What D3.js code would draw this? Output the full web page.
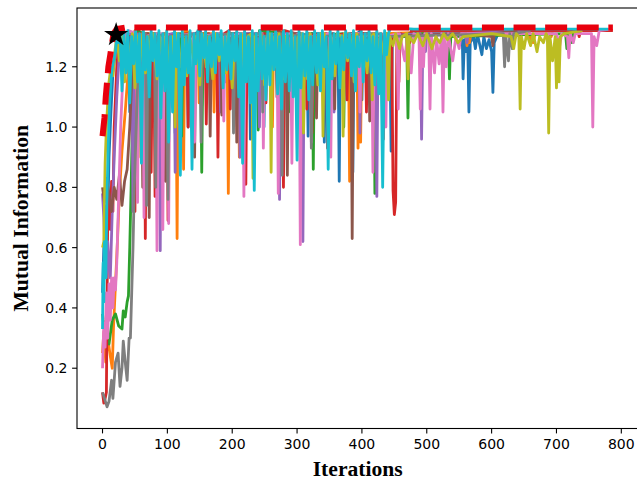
<!DOCTYPE html>
<html>
<head>
<meta charset="utf-8">
<style>
	html, body { margin: 0; padding: 0; background: #fff; }
	svg { display: block; }
	.tick-label { font-family: "DejaVu Sans", sans-serif; font-size: 14px; fill: #000; }
	.axis-title { font-family: "Liberation Serif", "Times New Roman", serif; font-weight: bold; font-size: 21.6px; fill: #000; }
</style>
<script src="https://cdn.jsdelivr.net/npm/d3@7"></script>
</head>
<body>
<div id="chart"></div>
<script>
// [iteration, mutual information] for each run
let blueRun = [[0,0.45],[2,0.6],[4,0.52],[6,0.74],[8,0.7],[10,0.9],[13,1.05],[16,1.18],[20,1.25],[25,1.3],[30,1.32],
	[40,1.3],[42,1.05],[44,1.31],[70,1.31],[72,1.12],[74,1.3],[110,1.31],[112,0.98],[114,1.3],[130,1.31],[132,1.0],[134,1.3],
	[151,1.32],[153,1.07],[155,1.31],[188,1.3],[190,1.15],[192,1.31],[226,1.31],[228,0.96],[230,1.3],[247,1.31],[249,1.0],[251,1.32],
	[270,1.31],[272,1.02],[274,1.3],[315,1.3],[317,0.97],[319,1.31],[340,1.31],[342,0.95],[344,1.3],[363,1.31],[365,0.82],[367,1.3],
	[384,1.31],[386,0.85],[388,1.3],[398,1.32],[400,1.09],[402,1.31],[420,1.31],[422,1.1],[424,1.3],[443,1.3],[445,0.92],[447,1.31],
	[552,1.31],[555,1.27],[556,1.16],[558,1.29],[561,1.25],[563,1.3],[565,1.05],[567,1.28],[572,1.3],[575,1.26],[578,1.31],
	[582,1.27],[585,1.24],[588,1.3],[592,1.26],[596,1.29],[600,1.25],[602,1.115],[604,1.28],[608,1.3],[613,1.32],[640,1.32]];

let orangeRun = [[0,0.25],[2,0.32],[5,0.22],[8,0.3],[12,0.24],[15,0.2],[17,0.34],[20,0.48],[23,0.62],[26,0.78],[30,0.92],[35,1.05],[40,1.2],[45,1.3],[50,1.32],
	[57,1.3],[59,0.9],[61,1.31],[88,1.31],[90,0.78],[92,1.3],[113,1.31],[115,0.63],[117,1.3],[123,1.31],[125,0.86],[127,1.32],
	[147,1.3],[149,1.08],[151,1.31],[170,1.31],[172,1.05],[174,1.3],[192,1.31],[194,0.78],[196,1.3],
	[209,1.31],[211,0.9],[213,1.3],[215,0.92],[217,1.3],[260,1.31],[262,1.0],[264,1.32],[300,1.31],[302,1.04],[304,1.3],
	[350,1.31],[352,1.1],[354,1.3],[379,1.31],[381,0.82],[383,1.3],[392,1.31],[394,0.93],[396,1.3],[398,0.95],[400,1.31],
	[432,1.3],[434,1.12],[436,1.31],[560,1.32],[562,1.27],[564,1.3],[566,1.28],[568,1.31],
	[658,1.32],[660,1.29],[662,1.3],[664,1.28],[667,1.31],[690,1.31],[692,1.3],[694,1.32],[720,1.32]];

let greenRun = [[0,0.38],[1,0.36],[5,0.3],[10,0.28],[15,0.36],[20,0.38],[25,0.34],[30,0.33],[32,0.39],[35,0.37],[38,0.42],[40,0.44],
	[42,0.6],[44,0.79],[46,1.0],[48,1.2],[50,1.3],[55,1.32],
	[62,1.31],[64,0.92],[66,1.3],[120,1.31],[122,0.97],[124,1.3],[151,1.31],[153,0.85],[155,1.3],[200,1.31],[202,1.1],[204,1.3],
	[238,1.31],[240,0.99],[242,1.32],[285,1.31],[287,1.05],[289,1.3],[323,1.31],[325,0.86],[327,1.3],[370,1.31],[372,1.0],[374,1.3],
	[418,1.31],[420,0.78],[422,1.3],[469,1.3],[471,1.03],[473,1.31],[533,1.31],[535,1.16],[537,1.3],
	[714,1.31],[716,1.26],[718,1.31],[722,1.3],[724,1.28],[726,1.32],[740,1.32]];

let redRun = [[0,0.12],[2,0.084],[4,0.1],[6,0.12],[8,0.7],[10,0.78],[12,0.66],[14,0.82],[16,0.72],[18,1.0],[22,1.2],[26,1.3],[30,1.32],
	[48,1.3],[50,0.72],[52,1.31],[64,1.31],[66,0.63],[68,1.3],[73,1.3],[75,0.85],[77,1.31],[79,1.31],[81,0.77],[83,1.3],
	[99,1.31],[101,0.69],[103,1.3],[130,1.31],[132,1.0],[134,1.3],[158,1.31],[160,1.01],[162,1.3],[176,1.31],[178,0.9],[180,1.3],
	[195,1.32],[197,1.06],[199,1.3],[219,1.31],[221,0.81],[223,1.3],[250,1.31],[252,1.08],[254,1.3],[277,1.31],[279,0.8],[281,1.32],
	[313,1.3],[315,1.06],[317,1.31],[323,0.98],[325,1.3],[345,1.31],[347,0.93],[349,1.3],[375,1.31],[377,1.09],[379,1.3],[384,1.2],[386,1.31],
	[405,1.31],[407,1.05],[409,1.3],[431,1.3],[433,0.96],[435,1.31],[446,1.3],[448,0.79],[450,0.71],[452,0.75],[454,1.3],[457,1.15],[459,1.31],
	[472,1.3],[474,1.28],[476,1.32],[733,1.32],[735,1.3],[737,1.32],[787,1.32]];

let purpleRun = [[0,0.78],[2,0.7],[4,0.56],[6,0.5],[8,0.62],[10,0.54],[12,0.5],[15,0.72],[18,0.9],[22,1.1],[26,1.25],[30,1.31],
	[45,1.31],[47,0.72],[49,1.3],[87,1.31],[89,0.59],[91,1.3],[110,1.31],[112,0.85],[114,1.3],[150,1.31],[152,1.1],[154,1.3],
	[180,1.31],[182,1.05],[184,1.3],[210,1.31],[212,0.9],[214,1.31],[240,1.31],[242,1.0],[244,1.3],[271,1.3],[273,0.76],[275,1.31],
	[307,1.31],[309,0.62],[311,1.3],[355,1.31],[357,1.05],[359,1.3],[395,1.31],[397,0.98],[399,1.3],[421,1.31],[423,0.77],[425,1.3],
	[490,1.31],[492,0.96],[494,1.3],[498,1.25],[500,1.31],[560,1.31],[562,1.28],[564,1.31],[650,1.32]];

let brownRun = [[0,0.8],[3,0.75],[6,0.83],[10,0.78],[14,0.72],[18,0.8],[22,0.76],[26,0.84],[30,0.74],[34,0.82],[38,0.86],[42,1.0],[46,1.2],[50,1.3],[54,1.31],
	[60,1.3],[62,0.8],[64,1.31],[70,1.31],[72,0.7],[74,1.3],[95,1.31],[97,0.82],[99,1.3],[140,1.31],[142,0.9],[144,1.3],
	[164,1.31],[166,0.97],[168,1.3],[182,1.31],[184,1.04],[186,1.3],[205,1.31],[207,0.95],[209,1.3],[230,1.31],[232,1.0],[234,1.3],
	[267,1.31],[269,1.1],[271,1.32],[283,1.3],[285,0.84],[287,1.31],[305,1.31],[307,0.98],[309,1.3],[328,1.31],[330,1.03],[332,1.3],
	[356,1.31],[358,1.06],[360,1.3],[383,1.31],[385,0.63],[387,1.3],[410,1.31],[412,1.02],[414,1.3],
	[560,1.31],[600,1.3],[602,1.27],[604,1.31],[640,1.32]];

let pinkRun = [[0,0.2],[2,0.35],[4,0.27],[6,0.45],[8,0.3],[10,0.48],[12,0.36],[14,0.5],[16,0.4],[18,0.5],[20,0.46],[22,0.55],[24,0.7],[26,0.85],[28,1.0],[32,1.2],[36,1.3],[40,1.32],
	[52,1.31],[54,0.75],[56,1.3],[62,1.31],[64,0.7],[66,1.3],[82,1.31],[84,0.59],[86,1.3],[91,1.31],[93,0.66],[95,1.3],
	[100,1.31],[102,0.68],[104,1.3],[140,1.31],[142,0.95],[144,1.3],[185,1.31],[187,1.02],[189,1.3],[216,1.31],[218,0.77],[220,1.3],
	[246,1.31],[248,0.93],[250,1.3],[269,1.31],[271,0.78],[273,1.3],[290,1.31],[292,0.88],[294,1.3],[303,1.31],[305,0.61],[307,1.3],
	[320,1.31],[322,0.95],[324,1.3],[350,1.31],[352,0.9],[354,1.3],[395,1.31],[397,1.05],[399,1.3],[415,1.31],[417,0.85],[419,1.3],
	[435,1.31],[437,1.0],[439,1.3],[454,1.31],[456,1.06],[458,1.31],[466,1.22],[470,1.3],[476,1.18],[480,1.31],[488,1.3],[490,1.06],[492,1.3],
	[495,1.2],[497,1.31],[503,1.3],[505,1.06],[507,1.31],[512,1.18],[515,1.3],[519,1.21],[523,1.31],[525,1.05],[527,1.3],[530,1.2],[533,1.31],
	[540,1.22],[545,1.3],[550,1.26],[553,1.31],[700,1.31],[705,1.27],[708,1.31],[717,1.3],[719,1.23],[721,1.31],[726,1.28],[729,1.31],
	[754,1.31],[756,1.0],[758,1.3],[762,1.27],[766,1.32],[783,1.325]];

let grayRun = [[0,0.12],[3,0.1],[7,0.072],[10,0.09],[14,0.16],[16,0.1],[20,0.22],[24,0.25],[27,0.14],[30,0.2],[32,0.29],[35,0.22],[38,0.16],
	[41,0.3],[43,0.3],[45,0.45],[47,0.6],[49,0.8],[52,1.0],[55,1.2],[58,1.3],[62,1.31],
	[66,1.31],[68,0.74],[70,1.3],[80,1.31],[82,0.8],[84,1.3],[99,1.31],[101,0.76],[103,1.3],[150,1.31],[152,0.95],[154,1.3],
	[200,1.31],[202,0.98],[204,1.3],[245,1.31],[247,1.05],[249,1.3],[275,1.31],[277,0.84],[279,1.3],[320,1.31],[322,0.93],[324,1.3],
	[430,1.31],[432,1.0],[434,1.3],[618,1.31],[620,1.2],[622,1.3],[626,1.22],[628,1.31],[632,1.26],[634,1.31],[660,1.32]];

let oliveRun = [[0,0.6],[2,0.62],[4,0.88],[6,1.0],[8,1.08],[10,1.15],[13,1.2],[16,1.17],[19,1.25],[22,1.3],[26,1.22],[30,1.31],[34,1.15],[38,1.3],
	[42,1.2],[46,1.31],[50,1.13],[54,1.3],[58,1.22],[62,1.31],[66,1.18],[70,1.3],[74,1.24],[78,1.31],[84,1.16],[88,1.3],[94,1.21],[98,1.31],
	[104,1.15],[108,1.3],[112,1.0],[114,1.31],[120,1.2],[124,1.3],[130,1.17],[134,1.31],[140,1.23],[144,1.3],[150,1.14],[154,1.31],
	[160,1.2],[164,1.3],[170,1.16],[174,1.31],[180,1.22],[184,1.3],[190,1.18],[194,1.31],[200,1.13],[204,1.3],[210,1.2],[214,1.31],
	[220,1.15],[224,1.3],[230,1.31],[232,0.83],[234,1.3],[240,1.19],[244,1.31],[250,1.14],[254,1.3],[258,1.31],[260,0.85],[262,1.3],
	[268,1.2],[272,1.31],[278,1.16],[282,1.3],[288,1.22],[292,1.31],[298,1.12],[302,1.3],[306,1.18],[308,1.31],[310,0.98],[312,1.3],
	[316,1.16],[320,1.31],[324,1.2],[328,1.3],[332,1.14],[336,1.31],[338,1.3],[340,0.97],[342,1.31],[348,1.2],[352,1.3],[358,1.17],
	[362,1.31],[369,1.3],[371,0.97],[373,1.31],[378,1.22],[382,1.3],[388,1.15],[392,1.31],[398,1.23],[402,1.3],[408,1.18],[412,1.31],
	[414,1.3],[416,1.09],[418,1.31],[424,1.2],[428,1.3],[434,1.24],[438,1.31],[441,1.09],[443,1.3],[448,1.27],[452,1.31],[458,1.26],
	[462,1.3],[469,1.31],[471,1.16],[473,1.3],[480,1.28],[486,1.31],[494,1.27],[500,1.31],[508,1.26],[514,1.3],[520,1.28],[526,1.31],
	[532,1.29],[540,1.31],[548,1.28],[556,1.3],[600,1.31],[630,1.3],[634,1.26],[638,1.31],[642,1.3],[644,1.06],[646,1.3],[650,1.26],
	[654,1.31],[660,1.27],[664,1.31],[670,1.25],[674,1.3],[680,1.28],[684,1.31],[686,1.3],[688,0.98],[690,1.3],[694,1.22],[698,1.3],
	[700,1.13],[702,1.29],[704,1.15],[706,1.3],[712,1.31],[740,1.32]];

let cyanHead = [[0,0.33],[1,0.55],[2,0.42],[3,0.62],[5,0.5],[7,0.78],[9,0.95],[11,1.08],[14,1.18],[17,1.22],[20,1.25],[22,1.3]];
// dense stretch of the cyan run, one value every 3 iterations from iteration 24
let cyanBandStart = 24;
let cyanBandStep = 3;
let cyanBand = [
	1.28, 1.32, 1.12, 1.31, 1.18, 1.32, 1.08, 1.30, 1.21, 1.32,
	1.15, 1.31, 0.88, 1.32, 1.19, 1.30, 1.10, 1.32, 1.22, 1.31,
	1.17, 1.32, 1.03, 1.31, 1.12, 1.32, 0.95, 1.30, 1.05, 1.32,
	1.20, 1.31, 0.84, 1.32, 1.14, 1.30, 1.18, 1.32, 0.86, 1.31,
	1.21, 1.32, 1.17, 1.31, 1.23, 1.32, 1.15, 1.30, 1.20, 1.32,
	1.18, 1.31, 1.24, 1.32, 1.13, 1.30, 1.19, 1.32, 1.16, 1.31,
	1.22, 1.32, 1.10, 1.31, 0.88, 1.32, 1.15, 1.30, 1.08, 1.32,
	0.79, 1.31, 1.12, 1.32, 1.16, 1.30, 1.09, 1.32, 1.14, 1.31,
	1.19, 1.32, 1.11, 1.30, 1.06, 1.32, 1.15, 1.31, 1.12, 1.32,
	1.10, 1.30, 0.89, 1.32, 1.13, 1.31, 1.17, 1.32, 1.09, 1.30,
	1.14, 1.32, 1.18, 1.31, 1.12, 1.32, 1.20, 1.30, 0.86, 1.32,
	1.16, 1.31, 1.21, 1.32, 1.13, 1.30, 1.19, 1.32, 1.23, 1.31,
	1.17, 1.32, 1.12, 1.30, 1.20, 1.32, 1.15, 1.31, 1.22, 1.32,
	1.18, 1.30, 1.14, 1.32, 1.11, 1.31, 0.80, 1.32, 1.24, 1.31,
	1.33];
let cyanTail = [[480,1.325],[780,1.325]];

// best value found so far (red dashed) and the marked maximum
let bestSoFar = [[0,0.97],[1,0.99],[3,1.03],[5,1.1],[7,1.15],[9,1.2],[12,1.24],[14,1.27],[17,1.31],[22,1.325],[35,1.33],[787,1.33]];
let bestPoint = [21, 1.306];

let iterTicks = [0, 100, 200, 300, 400, 500, 600, 700, 800];
let miTicks = [0.2, 0.4, 0.6, 0.8, 1.0, 1.2];

class miChart {
	constructor(id) {
		this.w = 637;
		this.h = 483;
		this.svg = d3.select(id)
			.append("svg")
			.attr("width", this.w)
			.attr("height", this.h);
	}

	render() {
		this.setScales();
		this.drawRuns();
		this.drawBest();
		this.drawAxes();
	}

	setScales() {
		this.x = d3.scaleLinear().domain([-39.35, 826.35]).range([77, 638.4]);
		this.y = d3.scaleLinear().domain([0, 1.395]).range([428.5, 8]);
		this.line = d3.line()
			.x((d) => { return this.x(d[0]); })
			.y((d) => { return this.y(d[1]); });
	}

	drawRuns() {
		let cyanRun = cyanHead
			.concat(cyanBand.map((v, i) => { return [cyanBandStart + i * cyanBandStep, v]; }))
			.concat(cyanTail);
		let runs = [blueRun, orangeRun, greenRun, redRun, purpleRun, brownRun, pinkRun, grayRun, oliveRun, cyanRun];

		this.svg.append("g")
			.selectAll("path")
			.data(runs)
			.enter().append("path")
			.attr("d", this.line)
			.attr("fill", "none")
			.attr("stroke", (d, i) => { return d3.schemeCategory10[i]; })
			.attr("stroke-width", 2.8)
			.attr("stroke-linejoin", "round");
	}

	drawBest() {
		this.svg.append("path")
			.datum(bestSoFar)
			.attr("d", this.line)
			.attr("fill", "none")
			.attr("stroke", "#e8000d")
			.attr("stroke-width", 6)
			.attr("stroke-dasharray", "22,9.6");

		this.svg.append("path")
			.attr("d", d3.symbol().type(d3.symbolStar).size(182)())
			.attr("transform", "translate(" + this.x(bestPoint[0]) + "," + this.y(bestPoint[1]) + ")")
			.attr("fill", "#000");
	}

	drawAxes() {
		let x0 = this.x.range()[0], x1 = this.x.range()[1];
		let y0 = this.y.range()[0], y1 = this.y.range()[1];

		this.svg.append("rect")
			.attr("x", x0)
			.attr("y", y1)
			.attr("width", x1 - x0)
			.attr("height", y0 - y1)
			.attr("fill", "none")
			.attr("stroke", "#000")
			.attr("stroke-width", 1.1);

		let xt = this.svg.append("g").selectAll("g")
			.data(iterTicks)
			.enter().append("g")
			.attr("transform", (d) => { return "translate(" + this.x(d) + "," + y0 + ")"; });
		xt.append("line").attr("y2", 4.9).attr("stroke", "#000").attr("stroke-width", 1.1);
		xt.append("text")
			.attr("class", "tick-label")
			.attr("text-anchor", "middle")
			.attr("y", 20.5)
			.text((d) => { return d; });

		let yt = this.svg.append("g").selectAll("g")
			.data(miTicks)
			.enter().append("g")
			.attr("transform", (d) => { return "translate(" + x0 + "," + this.y(d) + ")"; });
		yt.append("line").attr("x2", -4.9).attr("stroke", "#000").attr("stroke-width", 1.1);
		yt.append("text")
			.attr("class", "tick-label")
			.attr("text-anchor", "end")
			.attr("x", -9.5)
			.attr("y", 5)
			.text((d) => { return d3.format(".1f")(d); });

		this.svg.append("text")
			.attr("class", "axis-title")
			.attr("text-anchor", "middle")
			.attr("x", (x0 + x1) / 2)
			.attr("y", 476)
			.text("Iterations");

		this.svg.append("text")
			.attr("class", "axis-title")
			.attr("text-anchor", "middle")
			.attr("transform", "translate(27.5," + (y0 + y1) / 2 + ") rotate(-90)")
			.text("Mutual Information");
	}
}

let chart = new miChart("#chart");
chart.render();
</script>
</body>
</html>
